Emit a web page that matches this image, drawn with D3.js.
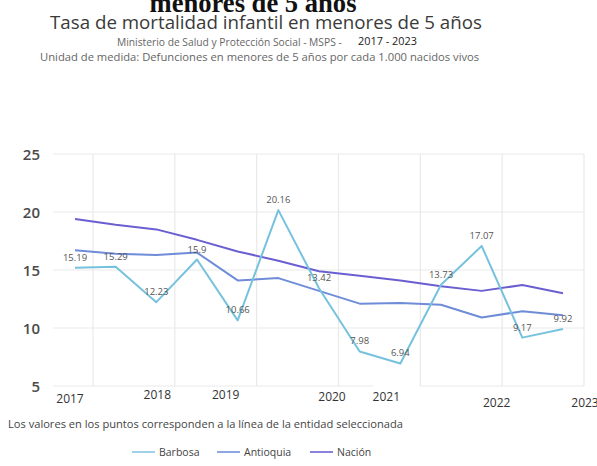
<!DOCTYPE html>
<html><head><meta charset="utf-8">
<script src="https://cdn.jsdelivr.net/npm/d3@7/dist/d3.min.js"></script>
<style>body{margin:0;background:#fff;}svg{display:block;}</style>
</head><body>
<svg id="c" width="597" height="466"></svg>
<script>
// ---- data ----
const periods = [2017, 2017.5, 2018, 2018.5, 2019, 2019.5, 2020, 2020.5, 2021, 2021.5, 2022, 2022.5, 2023];
const barbosa   = [15.19, 15.29, 12.23, 15.9, 10.66, 20.16, 13.42, 7.98, 6.94, 13.73, 17.07, 9.17, 9.92];
const antioquia = [16.7, 16.4, 16.3, 16.5, 14.1, 14.3, 13.2, 12.1, 12.15, 12.0, 10.9, 11.45, 11.1];
const nacion    = [19.4, 18.9, 18.5, 17.6, 16.6, 15.8, 14.9, 14.5, 14.1, 13.6, 13.2, 13.7, 13.0];
const yTicks = [5, 10, 15, 20, 25];
const xTickLabels = ["2017", "2018", "2019", "2020", "2021", "2022", "2023"];
const seriesNames = ["Barbosa", "Antioquia", "Nación"];

// ---- layout / style ----
const colors = ["#76c2de", "#6f8cd9", "#6a5fd0"];
const legendColors = ["#9fd2ea", "#8ea6e2", "#8a82dc"];
// per-label nudges (dx, baseline y) reproducing the reference's placement
const xTickNudge = [-5, 1, -12, 13, -14, 15, 22];
const xTickBase  = [403, 399, 399, 401, 401, 407, 407];

const svg = d3.select("#c");
const x = d3.scaleLinear().domain([2017, 2023]).range([75, 563]);
const y = d3.scaleLinear().domain([5, 25]).range([386, 154]);

function fitText(sel, w) {
  const n = sel.node();
  const fs = parseFloat(sel.attr("font-size"));
  const l = n.getComputedTextLength();
  sel.attr("font-size", fs * w / l);
}

// cut-off serif heading at very top (only its lower half is visible)
const h0 = svg.append("text").attr("x", 253).attr("y", 12).attr("text-anchor", "middle")
  .attr("font-family", "Liberation Serif, Times New Roman, serif").attr("font-weight", "bold")
  .attr("font-size", 26).attr("fill", "#111").text("menores de 5 años");
fitText(h0, 207);

const t1 = svg.append("text").attr("x", 266).attr("y", 29).attr("text-anchor", "middle")
  .attr("font-family", "Open Sans, sans-serif").attr("font-size", 18).attr("fill", "#3a3a3a")
  .text("Tasa de mortalidad infantil en menores de 5 años");
fitText(t1, 432);

const s1 = svg.append("text").attr("x", 117).attr("y", 46)
  .attr("font-family", "Open Sans, sans-serif").attr("font-size", 9).attr("fill", "#666")
  .text("Ministerio de Salud y Protección Social - MSPS -");
fitText(s1, 225);
const s1b = svg.append("text").attr("x", 358).attr("y", 45)
  .attr("font-family", "Open Sans, sans-serif").attr("font-size", 10).attr("fill", "#222")
  .text("2017 - 2023");
fitText(s1b, 59);
const s2 = svg.append("text").attr("x", 40).attr("y", 61)
  .attr("font-family", "Open Sans, sans-serif").attr("font-size", 9).attr("fill", "#666")
  .text("Unidad de medida: Defunciones en menores de 5 años por cada 1.000 nacidos vivos");
fitText(s2, 440);

// grid
const grid = svg.append("g").attr("stroke", "#e9e9e9").attr("stroke-width", 1.2);
yTicks.forEach(v => {
  if (v === 5) {
    grid.append("line").attr("x1", 53).attr("x2", 373).attr("y1", y(v)).attr("y2", y(v));
    grid.append("line").attr("x1", 420).attr("x2", 584).attr("y1", y(v)).attr("y2", y(v));
  } else {
    grid.append("line").attr("x1", 53).attr("x2", 584).attr("y1", y(v)).attr("y2", y(v));
  }
});
xTickLabels.forEach((t, i) => {
  const gx = 93 + (x(2018) - x(2017) + 0.5) * i;
  grid.append("line").attr("x1", gx).attr("x2", gx).attr("y1", y(25)).attr("y2", y(5));
});

// y axis labels
svg.append("g").selectAll("text").data(yTicks).join("text")
  .attr("x", 40).attr("y", d => y(d) + 5.5).attr("text-anchor", "end")
  .attr("font-family", "Open Sans, sans-serif").attr("font-size", 15).attr("font-weight", 600)
  .attr("fill", "#4a4a4a").text(d => d);

// x labels
svg.append("g").selectAll("text").data(xTickLabels).join("text")
  .attr("x", (d, i) => x(+d) + xTickNudge[i]).attr("y", (d, i) => xTickBase[i])
  .attr("text-anchor", "middle")
  .attr("font-family", "Open Sans, sans-serif").attr("font-size", 12)
  .attr("fill", "#333").text(d => d);

// lines
const line = d3.line().x((d, i) => x(periods[i])).y(d => y(d));
[nacion, antioquia, barbosa].forEach((s, k) => {
  const ci = 2 - k;
  svg.append("path").datum(s).attr("d", line).attr("fill", "none")
    .attr("stroke", colors[ci]).attr("stroke-width", 2).attr("stroke-linejoin", "round");
});

// point labels (Barbosa)
svg.append("g").selectAll("text").data(barbosa).join("text")
  .attr("x", (d, i) => x(periods[i])).attr("y", d => y(d) - 7)
  .attr("text-anchor", "middle")
  .attr("font-family", "Open Sans, sans-serif").attr("font-size", 9.5)
  .attr("fill", "#555").text(d => d);

// footnote
const fn = svg.append("text").attr("x", 8).attr("y", 428)
  .attr("font-family", "Open Sans, sans-serif").attr("font-size", 9.5).attr("fill", "#444")
  .text("Los valores en los puntos corresponden a la línea de la entidad seleccionada");
fitText(fn, 395);

// legend
const legX = [132, 217, 310];
const lg = svg.append("g");
seriesNames.forEach((n, i) => {
  lg.append("line").attr("x1", legX[i]).attr("x2", legX[i] + 23).attr("y1", 452).attr("y2", 452)
    .attr("stroke", legendColors[i]).attr("stroke-width", 2);
  lg.append("text").attr("x", legX[i] + 27).attr("y", 456)
    .attr("font-family", "Open Sans, sans-serif").attr("font-size", 10.5).attr("fill", "#444").text(n);
});
</script>
</body></html>
